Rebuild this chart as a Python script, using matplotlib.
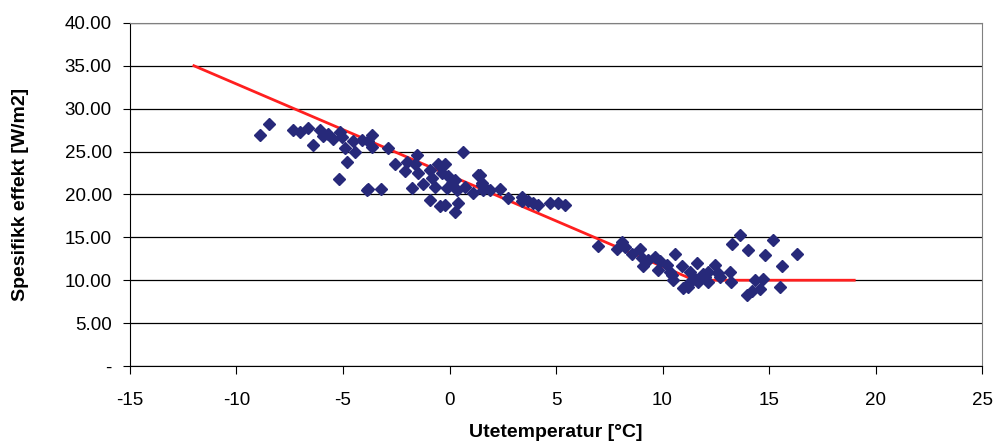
import numpy as np
import matplotlib.pyplot as plt
from matplotlib.ticker import FuncFormatter

plt.rcParams['font.family'] = ['Liberation Sans', 'DejaVu Sans']
plt.rcParams['font.size'] = 12
plt.rcParams['axes.unicode_minus'] = False

# measured points: outdoor temperature [C] vs specific power [W/m2]
temp = [-8.9, -8.47, -7.33, -7.0, -6.63, -6.39, -6.08, -5.92, -5.69, -5.45,
        -5.14, -5.06, -4.9, -4.83, -5.19, -4.44, -4.52, -4.12, -3.89,
        -3.65, -3.81, -3.65, -2.87, -2.56, -2.01, -1.54, -1.62, -2.09, -1.46,
        -1.77, -1.23, -0.92, -0.53, -0.21, -0.84, -0.68, -0.37, -0.06, 0.10,
        0.26, -0.13, 0.34, 0.73, 1.12, 1.35, 0.65, -0.92, -0.21, -0.45,
        0.41, 0.26, -3.81, -3.23, 1.51,
        1.43, 1.51, 1.59, 1.90, 2.37, 2.76, 3.39, 3.39, 3.70, 3.93,
        4.17, 4.72, 5.11, 5.42,
        6.99, 7.85, 8.08, 8.24, 8.55, 8.94, 9.02, 9.10, 9.33, 9.65,
        9.80, 9.88, 10.20, 10.59, 10.43, 10.51, 10.35, 10.90, 10.98, 11.21,
        11.29, 11.6, 11.53, 11.68, 11.29, 12.0, 12.15,
        13.64, 13.28, 14.03, 15.2, 14.81, 16.3, 15.6, 12.46, 11.92, 12.15,
        12.62, 12.7, 13.17, 13.2, 14.34, 14.73, 14.58, 13.95, 14.19, 15.52]
power = [26.9, 28.2, 27.5, 27.3, 27.8, 25.8, 27.5, 26.8, 27.1, 26.5,
         27.3, 26.7, 25.4, 23.8, 21.8, 25.0, 26.2, 26.4, 20.5,
         26.9, 26.2, 25.5, 25.4, 23.6, 23.8, 24.6, 23.6, 22.7, 22.5,
         20.8, 21.2, 22.9, 23.6, 23.6, 21.9, 20.9, 22.5, 22.1, 21.3,
         21.7, 20.7, 20.5, 20.9, 20.2, 22.3, 25.0, 19.3, 18.8, 18.6,
         19.0, 18.0, 20.6, 20.6, 21.3,
         22.3, 21.1, 20.5, 20.5, 20.6, 19.6, 19.7, 19.2, 19.2, 19.0,
         18.8, 19.0, 19.0, 18.8,
         14.0, 13.6, 14.5, 13.9, 13.1, 13.6, 12.6, 11.6, 12.4, 12.7,
         11.2, 12.2, 11.8, 13.1, 10.6, 10.0, 11.0, 11.6, 9.06, 9.25,
         11.0, 12.0, 10.2, 9.8, 9.8, 10.4, 11.0,
         15.3, 14.2, 13.5, 14.7, 12.9, 13.1, 11.7, 11.8, 10.7, 9.8,
         10.8, 10.4, 11.0, 9.8, 10.0, 10.2, 9.0, 8.3, 8.7, 9.2]

# model line
line_x = [-12, 11.5, 19]
line_y = [35, 10, 10]

fig = plt.figure(figsize=(9.96, 4.48), dpi=100)
ax = fig.add_axes([0.1305, 0.183, 0.8555, 0.766])

ax.plot(line_x, line_y, color='#ff1f1f', lw=2, zorder=3)
ax.plot(temp, power, 'D', color='#27297a', ms=6.5, mec='#27297a', ls='none', zorder=4)

ax.set_xlim(-15, 25)
ax.set_ylim(0, 40)
ax.set_xticks(np.arange(-15, 26, 5))
ax.set_yticks(np.arange(0, 41, 5))
ax.yaxis.set_major_formatter(FuncFormatter(lambda v, p: '-' if v == 0 else '%.2f' % v))
ax.grid(axis='y', color='black', lw=0.9)
ax.set_axisbelow(True)

for s in ['top', 'right']:
    ax.spines[s].set_color('#808080')
ax.tick_params(axis='y', direction='out', length=5, pad=8, labelsize=13.5)
ax.tick_params(axis='x', direction='out', length=6, pad=13, labelsize=13.5)

ax.set_xlabel('Utetemperatur [°C]', fontweight='bold', fontsize=14)
ax.set_ylabel('Spesifikk effekt [W/m2]', fontweight='bold', fontsize=14)
ax.xaxis.set_label_coords(0.5, -0.17)
ax.yaxis.set_label_coords(-0.118, 0.5)

fig.savefig('out.png', dpi=100)
